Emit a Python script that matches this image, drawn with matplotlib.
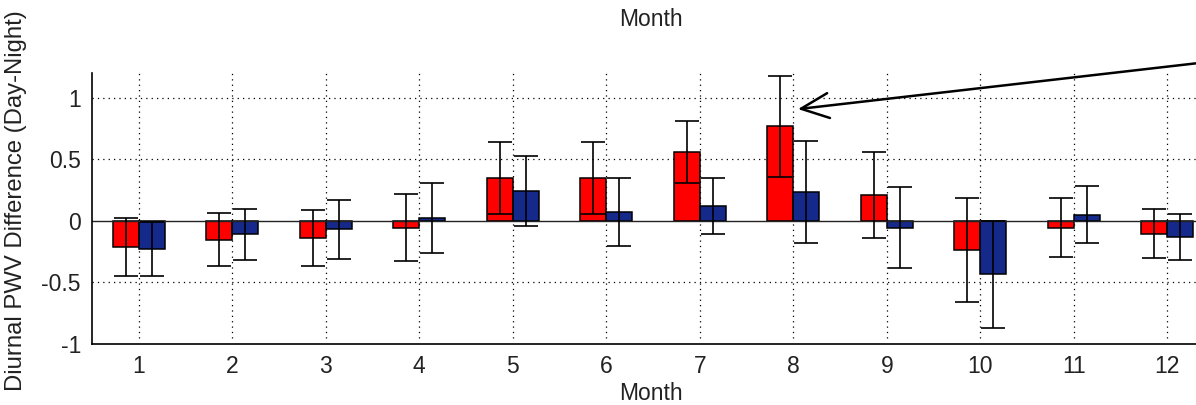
import numpy as np
import matplotlib
matplotlib.use("Agg")
import matplotlib.pyplot as plt
from matplotlib.ticker import FixedLocator, FixedFormatter

plt.rcParams["font.family"] = ["Liberation Sans", "DejaVu Sans"]

# ---------- data -------------------------------------------------------------
months = np.arange(1, 13)
day_night_a = [-0.21, -0.155, -0.14, -0.055, 0.348, 0.348, 0.559, 0.769, 0.208, -0.235, -0.057, -0.103]
err_a = [0.235, 0.215, 0.23, 0.27, 0.29, 0.295, 0.25, 0.41, 0.35, 0.42, 0.24, 0.195]
day_night_b = [-0.23, -0.11, -0.07, 0.02, 0.243, 0.07, 0.121, 0.235, -0.057, -0.435, 0.049, -0.132]
err_b = [0.22, 0.21, 0.24, 0.285, 0.285, 0.277, 0.227, 0.413, 0.33, 0.435, 0.23, 0.186]
ytick_vals = [-1, -0.5, 0, 0.5, 1]
ytick_text = ["-1", "-0.5", "0", "0.5", "1"]

RED = "#ff0000"
NAVY = "#15298a"
TXT = "#222222"
BAR_W = 0.28
DOTS = (0, (1, 3.3))
FS = 16.5

# ---------- figure -----------------------------------------------------------
fig = plt.figure(figsize=(11.96, 4.05), dpi=100)
ax = fig.add_axes([92 / 1196, 61 / 405, 1122 / 1196, 271 / 405])
ax.set_xlim(0.5, 12.5)
ax.set_ylim(-1, 1.2)
ax.set_axisbelow(True)

xa = months - BAR_W / 2
xb = months + BAR_W / 2
ax.bar(xa, day_night_a, width=BAR_W, color=RED, edgecolor="black", lw=1.1, zorder=2)
ax.bar(xb, day_night_b, width=BAR_W, color=NAVY, edgecolor="black", lw=1.1, zorder=2)
ax.errorbar(xa, day_night_a, yerr=err_a, fmt="none", ecolor="black",
            elinewidth=1.2, capsize=8.5, capthick=1.2, zorder=3)
ax.errorbar(xb, day_night_b, yerr=err_b, fmt="none", ecolor="black",
            elinewidth=1.2, capsize=8.5, capthick=1.2, zorder=3)

# zero baseline
ax.axhline(0, color=TXT, lw=1.0, zorder=2.5)

# dotted grid
for m in months:
    ax.plot([m, m], [-0.95, 1.2], color="black", lw=0.9, ls=DOTS, zorder=1)
for yv in [-0.5, 0.5, 1.0]:
    ax.plot([0.5, 12.5], [yv, yv], color="black", lw=0.9, ls=DOTS, zorder=1)

# axes styling
for side in ["top", "right"]:
    ax.spines[side].set_visible(False)
ax.spines["left"].set_linewidth(1.2)
ax.spines["bottom"].set_linewidth(1.2)
ax.xaxis.set_major_locator(FixedLocator(months))
ax.yaxis.set_major_locator(FixedLocator(ytick_vals))
ax.yaxis.set_major_formatter(FixedFormatter(ytick_text))
ax.tick_params(axis="both", direction="in", length=0, labelsize=FS,
               colors=TXT, pad=8)
ax.set_xlabel("Month", fontsize=FS, color=TXT)
ax.xaxis.set_label_coords((651 - 92) / 1122, -0.14)

fig.text(16 / 1196, 1 - 201 / 405, "Diurnal PWV Difference (Day-Night)",
         fontsize=17.2, color=TXT, rotation=90, ha="center", va="center")
fig.text(651 / 1196, 1 - 19 / 405, "Month", fontsize=FS, color=TXT,
         ha="center", va="center")

# arrow pointing at the August peak
ax.annotate("", xy=(8.05, 0.907), xytext=(12.6, 1.304),
            arrowprops=dict(arrowstyle="->,head_length=1.0,head_width=0.45",
                            mutation_scale=20, lw=1.8, color="black",
                            shrinkA=0, shrinkB=0),
            annotation_clip=False)

fig.savefig("out.png", dpi=100)
